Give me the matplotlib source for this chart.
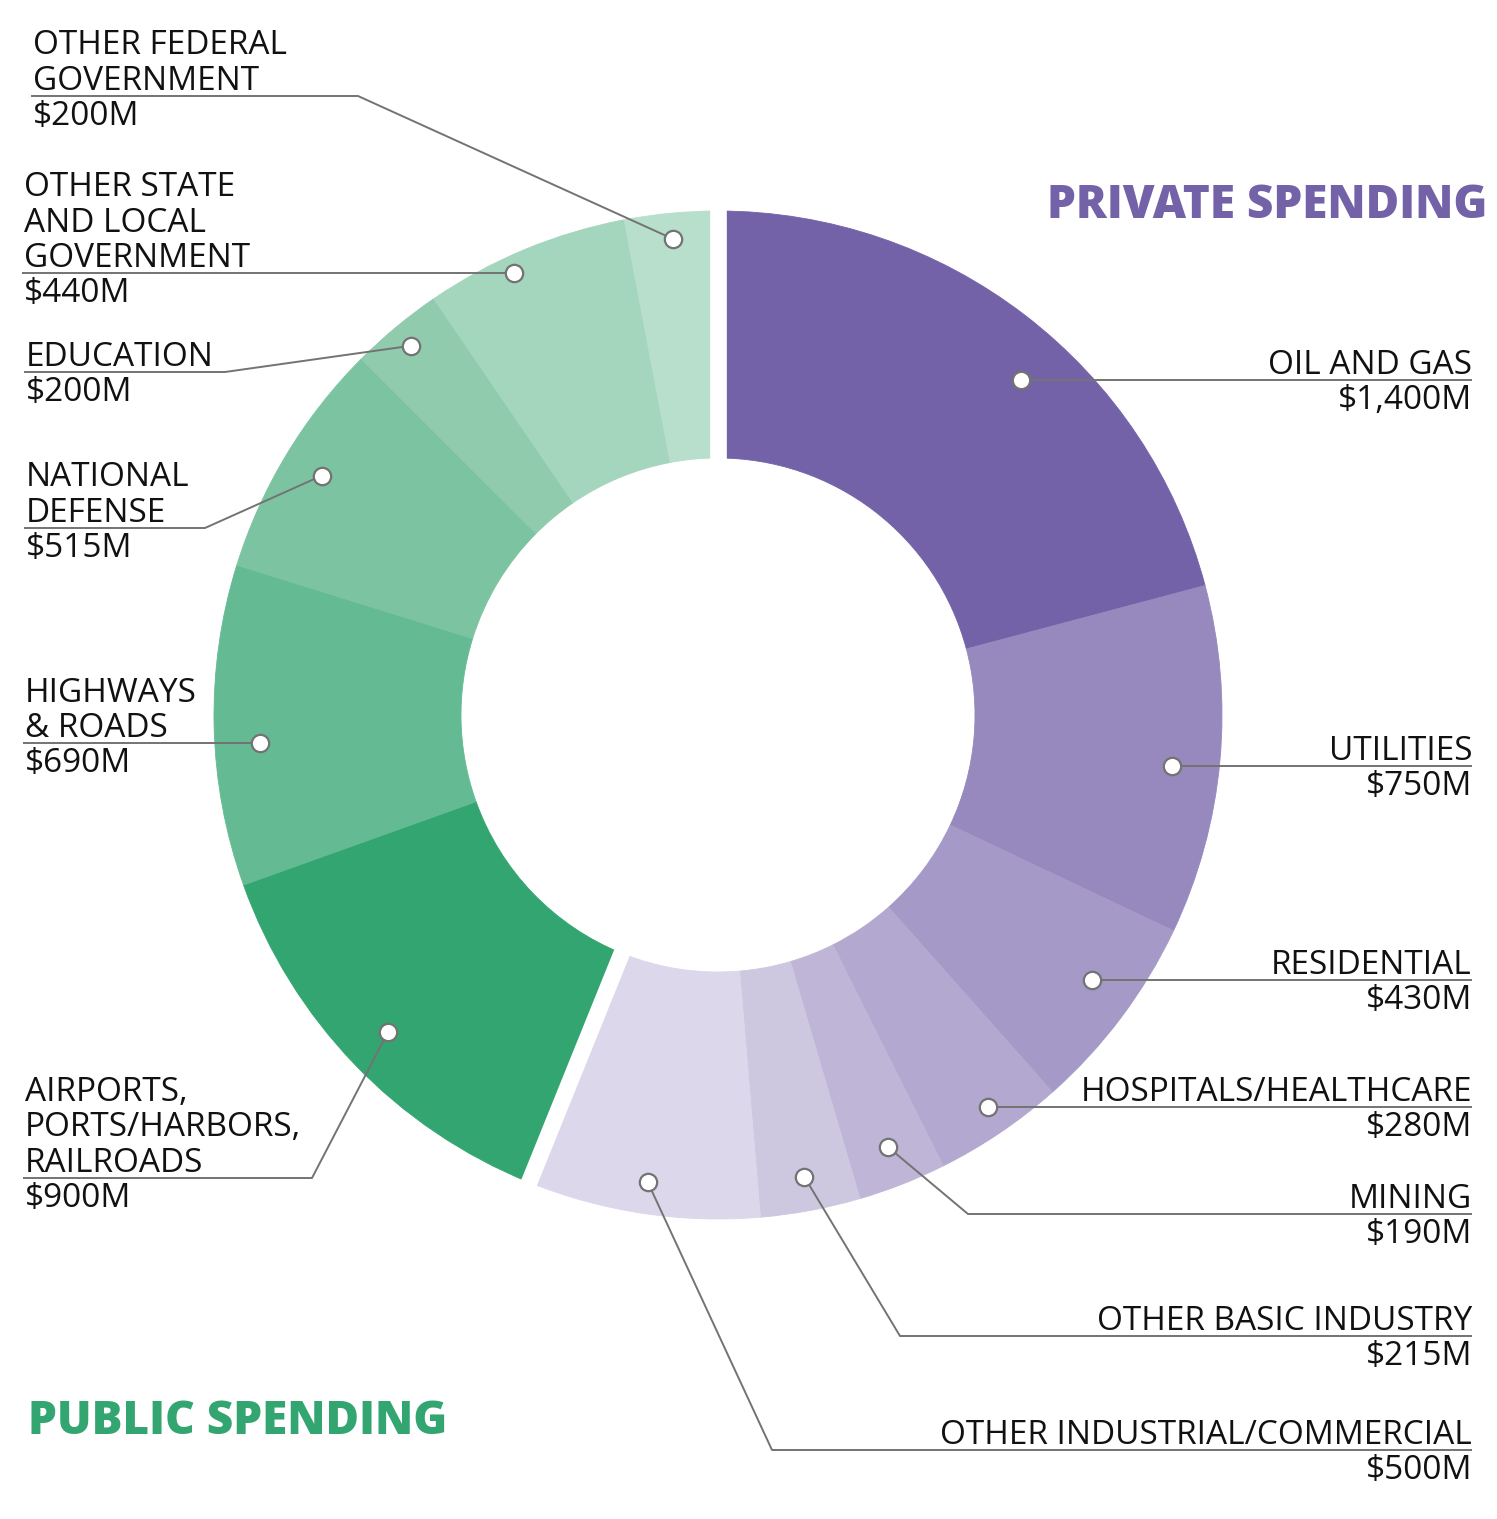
import numpy as np
import matplotlib.pyplot as plt

plt.rcParams['font.family'] = ['Open Sans', 'DejaVu Sans']

# data, clockwise from 12 o'clock
private_names = ["OIL AND GAS", "UTILITIES", "RESIDENTIAL", "HOSPITALS/HEALTHCARE",
                 "MINING", "OTHER BASIC INDUSTRY", "OTHER INDUSTRIAL/COMMERCIAL"]
private_values = [1400, 750, 430, 280, 190, 215, 500]
private_labels = ["$1,400M", "$750M", "$430M", "$280M", "$190M", "$215M", "$500M"]
private_colors = ["#7462a8", "#9789be", "#a599c8", "#b3a8cf", "#beb5d7", "#cdc8e0", "#dcd7eb"]

public_names = ["AIRPORTS,\nPORTS/HARBORS,\nRAILROADS", "HIGHWAYS\n& ROADS", "NATIONAL\nDEFENSE",
                "EDUCATION", "OTHER STATE\nAND LOCAL\nGOVERNMENT", "OTHER FEDERAL\nGOVERNMENT"]
public_values = [900, 690, 515, 200, 440, 200]
public_labels = ["$900M", "$690M", "$515M", "$200M", "$440M", "$200M"]
public_colors = ["#33a570", "#64ba93", "#7cc4a1", "#8fcbac", "#a4d5bd", "#b8dfcc"]

# layout (pixel units, y measured from top)
W, H = 1497, 1519
cx, cy = 718, 715
R, ring = 504, 247
right_x = 1472
right_line_y = [380, 766, 980, 1107, 1214, 1336, 1450]
right_elbow = [None, None, None, None, 968, 900, 772]
right_dot_r = [452, 457, 458, 476, 464, 470, 472]
left_text_x = [25, 25, 26, 26, 24, 33]
left_line_y = [1178, 743, 528, 372, 273, 96]
left_elbow = [312, None, 205, 225, None, 358]
left_dot_r = [458, 459, 463, 480, 487, 478]

values = private_values + public_values
colors = private_colors + public_colors

fig = plt.figure(figsize=(W / 100, H / 100), dpi=100)
ax = fig.add_axes([0, 0, 1, 1])

def Y(py):
    return H - py

wedges, _ = ax.pie(values, colors=colors, startangle=90, counterclock=False,
                   radius=R, center=(cx, Y(cy)),
                   wedgeprops=dict(width=ring, linewidth=0.6))
for w, c in zip(wedges, colors):
    w.set_edgecolor(c)
ax.set_xlim(0, W)
ax.set_ylim(0, H)
ax.set_aspect('equal')
ax.axis('off')

# white gaps between private and public groups
total = sum(values)
for frac in [0, sum(private_values) / total]:
    a = np.deg2rad(90 - 360 * frac)
    ax.plot([cx, cx + (R + 20) * np.cos(a)], [Y(cy), Y(cy) + (R + 20) * np.sin(a)],
            color='white', lw=12, solid_capstyle='butt', zorder=3)

# dots: on the wedge mid-angle, or where a straight leader meets the dot circle
cum = np.cumsum([0] + values)
mids = 90 - 360 * (cum[:-1] + np.array(values) / 2) / total
elbows = right_elbow + left_elbow
line_ys = right_line_y + left_line_y
dot_rs = right_dot_r + left_dot_r
dots = []
for k, m in enumerate(mids):
    r = dot_rs[k]
    if elbows[k] is None:
        dy = cy - line_ys[k]
        dx = np.sqrt(r ** 2 - dy ** 2) * np.sign(np.cos(np.deg2rad(m)))
        dots.append((cx + dx, Y(line_ys[k])))
    else:
        dots.append((cx + r * np.cos(np.deg2rad(m)), Y(cy) + r * np.sin(np.deg2rad(m))))

line_col = '#737373'
fs = 24
lh = 35.5

def leader(x0, ly, elbow, dot):
    xs = [x0]
    ys = [Y(ly)]
    if elbow is not None:
        xs.append(elbow)
        ys.append(Y(ly))
    xs.append(dot[0])
    ys.append(dot[1])
    ax.plot(xs, ys, color=line_col, lw=1.4, zorder=4, solid_capstyle='butt')
    ax.plot(dot[0], dot[1], 'o', ms=12.5, mfc='white', mec=line_col, mew=1.6, zorder=5)

def label(x, ly, name, val, ha):
    lines = name.split("\n")
    for i, ln in enumerate(reversed(lines)):
        ax.text(x, Y(ly - 6 - i * lh), ln, ha=ha, va='baseline', fontsize=fs, color='#111111')
    ax.text(x, Y(ly + 29), val, ha=ha, va='baseline', fontsize=fs, color='#111111')

for i in range(len(private_values)):
    leader(right_x, right_line_y[i], right_elbow[i], dots[i])
    label(right_x, right_line_y[i], private_names[i], private_labels[i], 'right')

n = len(private_values)
for j in range(len(public_values)):
    leader(left_text_x[j] - 2, left_line_y[j], left_elbow[j], dots[n + j])
    label(left_text_x[j], left_line_y[j], public_names[j], public_labels[j], 'left')

ax.text(1487, Y(218), "PRIVATE SPENDING", ha='right', va='baseline', fontsize=33,
        fontweight='heavy', color='#7462a8')
ax.text(28, Y(1434), "PUBLIC SPENDING", ha='left', va='baseline', fontsize=33,
        fontweight='heavy', color='#33a570')

fig.savefig('out.png', dpi=100, facecolor='white')
